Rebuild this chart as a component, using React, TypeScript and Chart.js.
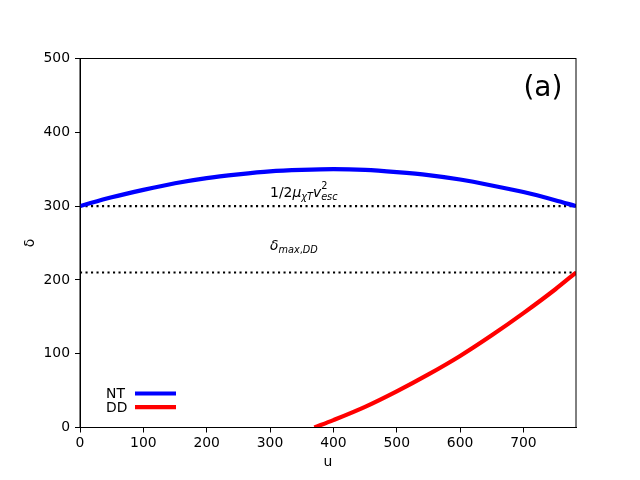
import { useEffect, useRef } from 'react';
import { Chart, registerables } from 'chart.js';
import type { Plugin } from 'chart.js';

Chart.register(...registerables);

// NT curve
const uNT = [0, 50, 100, 150, 200, 250, 300, 350, 400, 450, 500, 550, 600, 650, 700, 750, 783];
const deltaNT = [300, 312, 322, 331, 338, 343, 347, 349, 350, 349, 346, 342, 336, 328, 319, 308, 300];

// DD curve (runs below the axis before u ~ 370)
const uDD = [370, 400, 450, 500, 550, 600, 650, 700, 750, 783];
const deltaDD = [0, 10, 28, 49, 72, 97, 125, 155, 187, 210];

// dotted reference levels
const levelU = [0, 783];
const escLevel = 300;
const maxDDLevel = 210;

const xMax = 783;
const yMax = 500;

const FONT = '"DejaVu Sans", sans-serif';
const FS = 13.9;

type Seg = { t: string; it?: boolean; sub?: boolean; sup?: boolean; stack?: boolean };

const escLabel: Seg[] = [
  { t: '1/2' },
  { t: 'μ', it: true },
  { t: 'χT', it: true, sub: true },
  { t: 'v', it: true },
  { t: '2', sup: true },
  { t: 'esc', it: true, sub: true, stack: true },
];
const maxDDLabel: Seg[] = [
  { t: 'δ', it: true },
  { t: 'max', it: true, sub: true },
  { t: ',', sub: true },
  { t: 'DD', it: true, sub: true },
];

const notes = [
  { u: 300, d: 312, segs: escLabel },
  { u: 300, d: 240, segs: maxDDLabel },
];
const panelLabel = { u: 700, d: 449, text: '(a)' };

function drawMath(ctx: CanvasRenderingContext2D, x: number, y: number, segs: Seg[]) {
  let cx = x;
  let prevX = x;
  for (const s of segs) {
    const small = s.sub || s.sup;
    const fs = small ? FS * 0.7 : FS;
    ctx.font = `${s.it ? 'italic ' : ''}${fs}px ${FONT}`;
    const dy = s.sub ? FS * 0.22 : s.sup ? -FS * 0.58 : 0;
    const sx = s.stack ? prevX : cx;
    ctx.fillText(s.t, sx, y + dy);
    const w = ctx.measureText(s.t).width;
    if (s.stack) {
      cx = Math.max(cx, sx + w);
    } else {
      prevX = cx;
      cx = sx + w;
    }
  }
}

const extras: Plugin = {
  id: 'extras',
  afterDatasetsDraw(chart) {
    const { ctx, chartArea: a, scales } = chart;
    const xs = scales.x;
    const ys = scales.y;
    ctx.save();

    // frame on all four sides
    ctx.strokeStyle = '#000';
    ctx.lineWidth = 1;
    ctx.strokeRect(a.left, a.top, a.right - a.left, a.bottom - a.top);

    ctx.fillStyle = '#000';
    ctx.textBaseline = 'alphabetic';
    ctx.textAlign = 'left';
    notes.forEach(n => drawMath(ctx, xs.getPixelForValue(n.u), ys.getPixelForValue(n.d), n.segs));

    ctx.font = `28px ${FONT}`;
    ctx.fillText(panelLabel.text, xs.getPixelForValue(panelLabel.u), ys.getPixelForValue(panelLabel.d));

    // legend, text before the line
    ctx.font = `${FS}px ${FONT}`;
    ctx.textBaseline = 'middle';
    chart.data.datasets.slice(0, 2).forEach((ds, i) => {
      const y = a.bottom - 34 + i * 13.7;
      ctx.fillStyle = '#000';
      ctx.fillText(String(ds.label), a.left + 26, y + 1);
      ctx.strokeStyle = ds.borderColor as string;
      ctx.lineWidth = 4.2;
      ctx.beginPath();
      ctx.moveTo(a.left + 55, y);
      ctx.lineTo(a.left + 96, y);
      ctx.stroke();
    });
    ctx.restore();
  },
};

const App = () => {
  const canvasRef = useRef<HTMLCanvasElement | null>(null);

  useEffect(() => {
    document.body.style.margin = '0';
    if (!canvasRef.current) return;

    const dotted = {
      borderColor: '#000',
      borderWidth: 2.1,
      borderDash: [2.1, 3.4],
      pointRadius: 0,
      showLine: true,
      clip: 0,
    };

    const chart = new Chart(canvasRef.current, {
      type: 'scatter',
      data: {
        datasets: [
          {
            label: 'NT',
            data: uNT.map((u, i) => ({ x: u, y: deltaNT[i] })),
            borderColor: '#0000ff',
            borderWidth: 4.2,
            pointRadius: 0,
            showLine: true,
            cubicInterpolationMode: 'monotone',
            clip: 0,
          },
          {
            label: 'DD',
            data: uDD.map((u, i) => ({ x: u, y: deltaDD[i] })),
            borderColor: '#ff0000',
            borderWidth: 4.2,
            pointRadius: 0,
            showLine: true,
            cubicInterpolationMode: 'monotone',
            clip: 0,
          },
          { label: 'esc', data: levelU.map(u => ({ x: u, y: escLevel })), ...dotted },
          { label: 'maxDD', data: levelU.map(u => ({ x: u, y: maxDDLevel })), ...dotted },
        ],
      },
      options: {
        responsive: true,
        maintainAspectRatio: false,
        animation: false,
        layout: { padding: { top: 58.5, right: 64, left: 0, bottom: 0 } },
        plugins: {
          legend: { display: false },
          tooltip: { enabled: false },
        },
        scales: {
          x: {
            type: 'linear',
            min: 0,
            max: xMax,
            afterFit: s => { s.height = 52.5; },
            ticks: { stepSize: 100, includeBounds: false, padding: 3, color: '#000', font: { family: FONT, size: FS } },
            grid: { drawOnChartArea: false, drawTicks: true, tickLength: 5, tickColor: '#000' },
            border: { display: true, color: '#000' },
            title: { display: true, text: 'u', color: '#000', padding: { top: 0, bottom: 9 }, font: { family: FONT, size: FS } },
          },
          y: {
            type: 'linear',
            min: 0,
            max: yMax,
            afterFit: s => { s.width = 80; },
            ticks: { stepSize: 100, padding: 5, color: '#000', font: { family: FONT, size: FS } },
            grid: { drawOnChartArea: false, drawTicks: true, tickLength: 5, tickColor: '#000' },
            border: { display: true, color: '#000' },
            title: { display: true, text: 'δ', color: '#000', padding: { top: 22, bottom: 0 }, font: { family: FONT, size: FS } },
          },
        },
      },
      plugins: [extras],
    });

    return () => chart.destroy();
  }, []);

  return (
    <div style={{ width: 640, height: 480, position: 'relative', background: '#fff' }}>
      <canvas ref={canvasRef} />
    </div>
  );
};

export default App;
